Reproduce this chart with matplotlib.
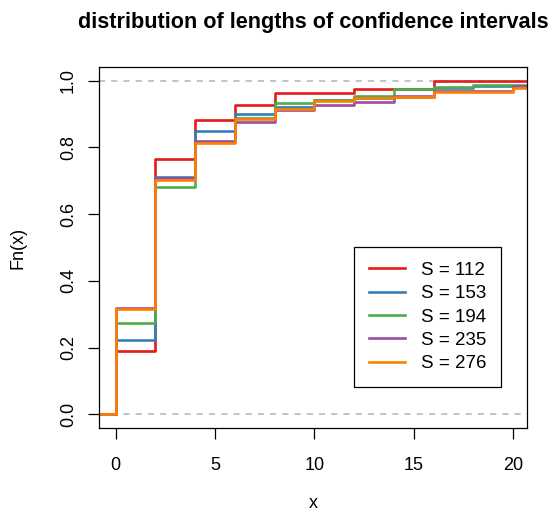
import numpy as np
import matplotlib
matplotlib.use("Agg")
import matplotlib.pyplot as plt

plt.rcParams['font.family'] = ['Liberation Sans', 'DejaVu Sans']

knots = [0, 2, 4, 6, 8, 10, 12, 14, 16, 18, 20]
labels = ["S = 112", "S = 153", "S = 194", "S = 235", "S = 276"]
red = [0.189, 0.766, 0.883, 0.928, 0.964, 0.964, 0.974, 0.974, 1.0, 1.0, 1.0]
blue = [0.222, 0.711, 0.850, 0.901, 0.921, 0.941, 0.947, 0.951, 0.978, 0.985, 0.985]
green = [0.275, 0.680, 0.815, 0.887, 0.932, 0.943, 0.953, 0.974, 0.981, 0.987, 0.987]
purple = [0.319, 0.709, 0.820, 0.877, 0.913, 0.927, 0.937, 0.955, 0.968, 0.968, 0.983]
orange = [0.316, 0.703, 0.812, 0.884, 0.916, 0.940, 0.947, 0.950, 0.965, 0.965, 0.979]
series = [red, blue, green, purple, orange]
colors = ["#E41A1C", "#377EB8", "#4DAF4A", "#984EA3", "#FF7F00"]

fig = plt.figure(figsize=(5.57, 5.16), dpi=100)
ax = fig.add_axes([0.1783, 0.1711, 0.9461 - 0.1783, 0.8696 - 0.1711])

ax.axhline(0, color="#B3B3B3", ls=(0, (4, 4)), lw=1.1, zorder=1)
ax.axhline(1, color="#B3B3B3", ls=(0, (4, 4)), lw=1.1, zorder=1)

xs = [-3] + knots + [25]
for vals, c, lab in zip(series, colors, labels):
    ys = [0] + vals + [vals[-1]]
    ax.step(xs, ys, where="post", color=c, lw=1.9, label=lab, zorder=2)

ax.set_xlim(-0.82, 20.69)
ax.set_ylim(-0.04, 1.04)
ax.set_xticks([0, 5, 10, 15, 20])
ax.set_yticks([0.0, 0.2, 0.4, 0.6, 0.8, 1.0])
ax.set_yticklabels(["0.0", "0.2", "0.4", "0.6", "0.8", "1.0"], rotation=90, va="center")
ax.tick_params(direction="out", length=8, width=0.9, labelsize=13)
ax.tick_params(axis="x", pad=13)
ax.tick_params(axis="y", pad=8)
for s in ax.spines.values():
    s.set_linewidth(0.9)

ax.set_xlabel("x", fontsize=13, labelpad=15)
ax.set_ylabel("Fn(x)", fontsize=13, labelpad=24)
ax.set_title("distribution of lengths of confidence intervals", fontsize=15.6, fontweight="bold", pad=28)

leg = ax.legend(loc="upper left", bbox_to_anchor=(0.596, 0.5006), fontsize=13.5,
                frameon=True, fancybox=False, edgecolor="black", framealpha=1,
                handlelength=1.92, handletextpad=0.85, labelspacing=0.33, borderpad=0.78,
                borderaxespad=0)
leg.get_frame().set_linewidth(0.9)

fig.savefig("out.png", dpi=100)
